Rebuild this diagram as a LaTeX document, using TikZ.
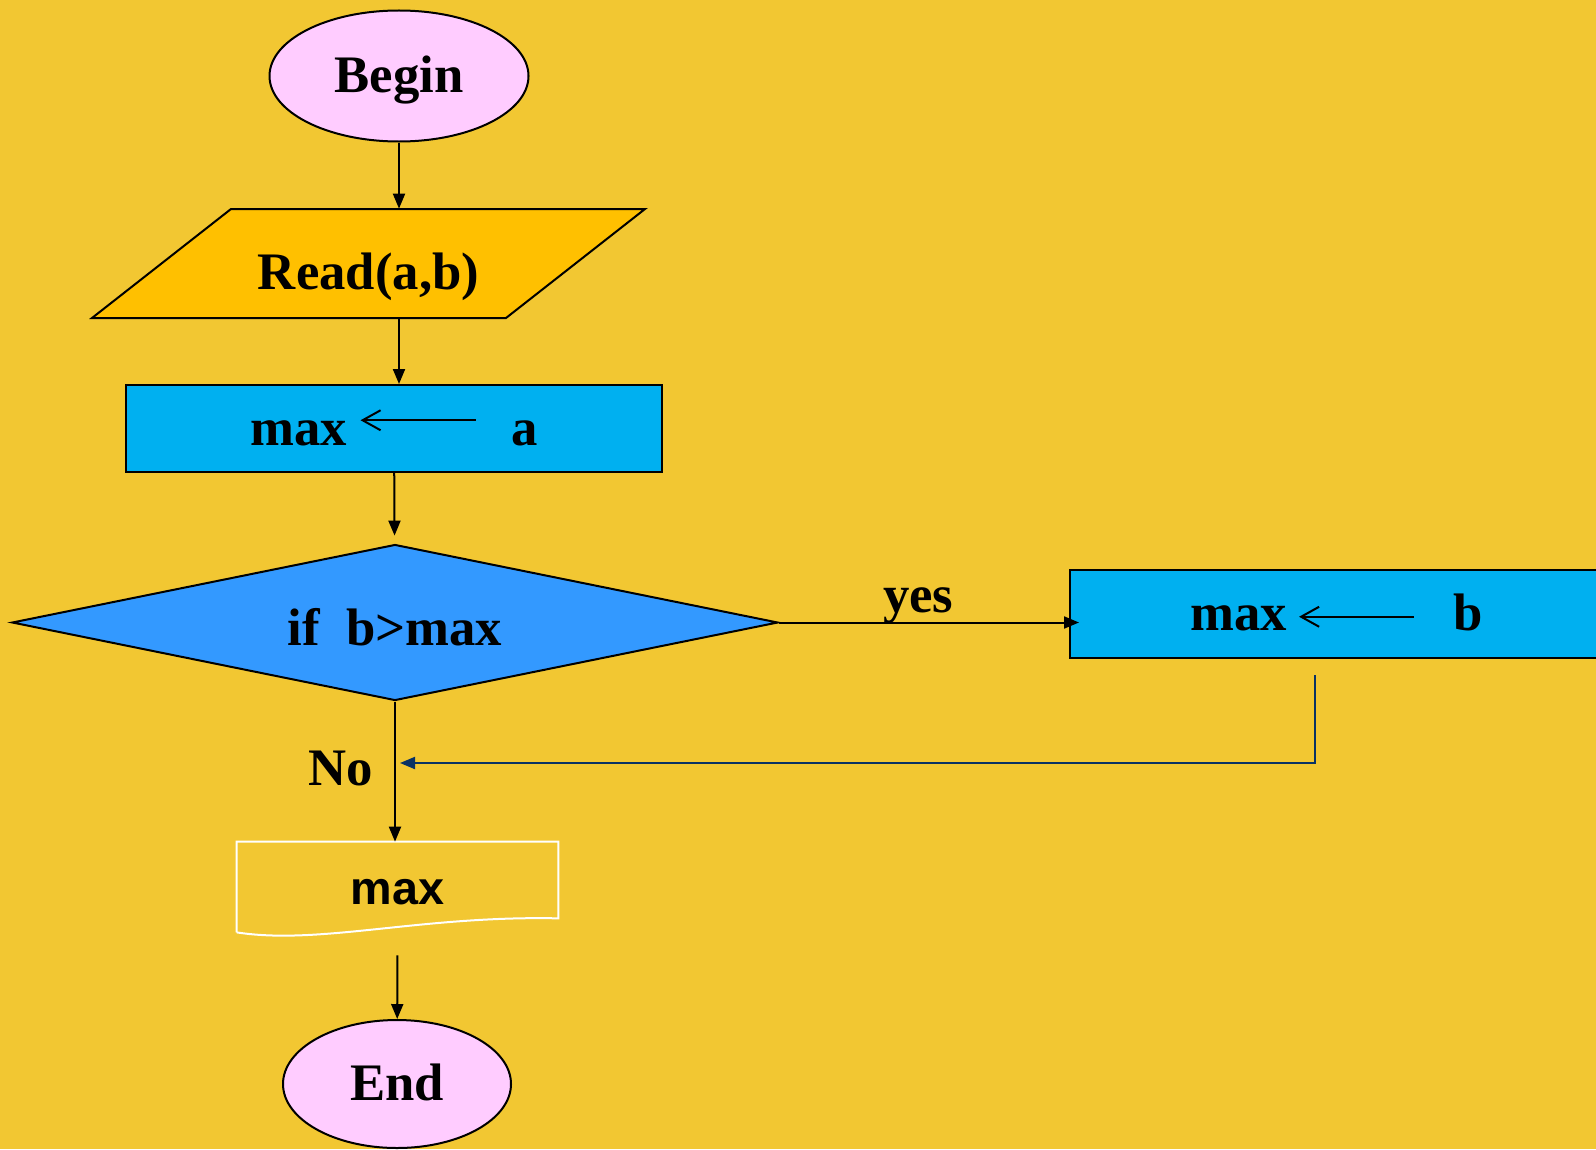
\documentclass[tikz,border=0pt]{standalone}
\usepackage{fontspec}
\setmainfont{Liberation Serif}
\newfontfamily\docfont{Liberation Sans}
\usetikzlibrary{arrows.meta,shapes.geometric,calc}
\definecolor{bgyellow}{RGB}{242,199,50}
\definecolor{termpink}{RGB}{255,204,255}
\definecolor{iogold}{RGB}{255,192,0}
\definecolor{procblue}{RGB}{0,176,240}
\definecolor{decblue}{RGB}{51,153,255}
\definecolor{backnavy}{RGB}{10,50,100}
\newcommand{\bigbf}{\fontsize{30}{36}\selectfont\bfseries}
% the left arrow used in the assignment boxes, #1 = height above the baseline
\newcommand{\assignarrow}[1]{\tikz[baseline=-#1]\draw[line width=0.4mm, {Straight Barb[length=3.6mm,width=4mm]}-] (0,0) -- (23mm,0);}
\tikzset{
    flowchart/.style={draw, line width=0.4mm, font=\bigbf},
    termnode/.style={flowchart, ellipse, fill=termpink, inner sep=0pt, text height=8.8mm, text depth=2.3mm},
    ionode/.style={rectangle, inner sep=0pt, font=\bigbf},
    iopath/.style={draw, line width=0.4mm, fill=iogold},
    procnode/.style={flowchart, rectangle, fill=procblue, inner sep=0pt, text height=6.7mm, text depth=0mm},
    decnode/.style={flowchart, diamond, aspect=4.91, fill=decblue, inner sep=0pt, text height=9.2mm, text depth=0mm},
    outnode/.style={rectangle, inner sep=0pt, minimum width=64.2mm, minimum height=15.2mm, text height=9.6mm, text depth=0mm, font={\docfont\fontsize{26.6}{32}\selectfont\bfseries}},
    docline/.style={draw=white, line width=0.4mm},
    flowarrow/.style={-{Triangle[length=3mm,width=2.4mm]}, line width=0.4mm},
    backarrow/.style={flowarrow, draw=backnavy},
    edgelabel/.style={font=\bigbf, inner sep=0pt}
}
\begin{document}
\begin{tikzpicture}[x=0.2mm, y=-0.2mm]
    \fill[bgyellow] (0,0) rectangle (1596,1149);
    \useasboundingbox (0,0) rectangle (1596,1149);

    % input parallelogram, slanted to the right
    \coordinate (readc) at (368.5,263.5);
    \path[iopath] ($(readc)+(-137.5,-54.5)$) -- ($(readc)+(276.5,-54.5)$) -- ($(readc)+(137.5,54.5)$) -- ($(readc)+(-276.5,54.5)$) -- cycle;

    \node[termnode, minimum width=51.8mm, minimum height=26.2mm] (begin) at (399,76) {Begin};
    \node[ionode, minimum width=82.8mm, minimum height=21.8mm, text height=12.6mm, text depth=2.1mm] (read) at (readc) {Read(a,b)};
    \node[procnode, minimum width=107.2mm, minimum height=17.4mm] (asga) at (394,428.5) {max\hspace{2.4mm}\assignarrow{5mm}\hspace{7mm}a};
    \node[decnode, minimum width=153.2mm, minimum height=31.2mm] (dec) at (395,622.5) {if\ \ b>max};
    \node[procnode, minimum width=106.6mm, minimum height=17.6mm] (asgb) at (1336.5,614) {max\hspace{2mm}\assignarrow{2.8mm}\hspace{7.6mm}b};
    \node[outnode] (out) at (397.5,880) {max};
    \node[termnode, minimum width=45.6mm, minimum height=25.6mm] (end) at (397,1084) {End};

    % output sheet with a wavy lower edge
    \draw[docline] ($(out.south west)+(0,14)$) -- (out.north west) -- (out.north east) -- (out.south east)
        .. controls ($(out.south east)+(-138,-3)$) and ($(out.south west)+(83,27)$) .. ($(out.south west)+(0,14)$);

    \coordinate (ret) at (1315,675);
    \coordinate (merge) at (395,763);

    \draw[flowarrow] (begin) -- (begin |- read.north);
    \draw[flowarrow] (read.south -| begin) -- (asga.north -| begin);
    \draw[flowarrow, shorten >=1.6mm] (asga) -- (dec);
    \draw[flowarrow, shorten >=-2mm] (dec.east) -- node[edgelabel, pos=0.48, anchor=base, yshift=2mm] {yes} (dec.east -| asgb.west);
    \draw[flowarrow] (dec.south) -- node[edgelabel, pos=0.6, anchor=base east, xshift=-4.2mm] {No} (dec.south |- out.north);
    \draw[backarrow, shorten >=1mm] (ret) |- (merge);
    \draw[flowarrow, shorten <=7.4mm] (out.south) -- (end);
\end{tikzpicture}
\end{document}
